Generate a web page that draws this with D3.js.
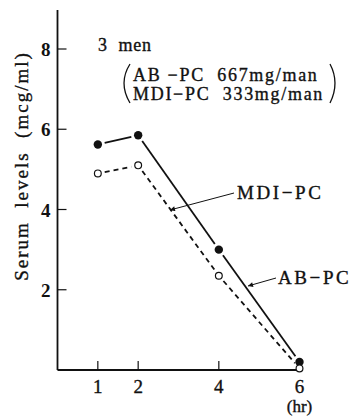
<!DOCTYPE html>
<html>
<head>
<meta charset="utf-8">
<script src="https://cdn.jsdelivr.net/npm/d3@7"></script>
<style>
  body { margin: 0; background: #fff; }
  svg text { font-family: "Liberation Serif", "DejaVu Serif", serif; fill: #111; white-space: pre;
             stroke: #111; stroke-width: 0.35px; }
</style>
</head>
<body>
<div id="chart"></div>
<script>
// data
const hours = [1, 2, 4, 6];
const abpc = [5.62, 5.85, 3.0, 0.2];     // filled circles, solid line
const mdipc = [4.9, 5.1, 2.35, 0.04];    // open circles, dashed line
const xTicks = [1, 2, 4, 6];
const yTicks = [2, 4, 6, 8];

const width = 357, height = 416;

const svg = d3.select("#chart").append("svg")
    .attr("width", width)
    .attr("height", height);

// scales
const x = d3.scaleLinear().domain([0, 6]).range([57.5, 299.5]);
const y = d3.scaleLinear().domain([0, 8]).range([370, 49]);

const ink = "#111";

// axes lines
svg.append("line")
    .attr("x1", x(0)).attr("x2", x(0))
    .attr("y1", 10).attr("y2", y(0))
    .attr("stroke", ink).attr("stroke-width", 1.8);

svg.append("line")
    .attr("x1", x(0)).attr("x2", x(6))
    .attr("y1", y(0)).attr("y2", y(0))
    .attr("stroke", ink).attr("stroke-width", 1.8);

// y ticks (inside) + labels
svg.selectAll(".ytick").data(yTicks).enter().append("line")
    .attr("x1", x(0)).attr("x2", x(0) + 9)
    .attr("y1", d => y(d)).attr("y2", d => y(d))
    .attr("stroke", ink).attr("stroke-width", 1.2);

svg.selectAll(".ylab").data(yTicks).enter().append("text")
    .attr("x", x(0) - 7).attr("y", d => y(d) + 7)
    .attr("text-anchor", "end")
    .style("font-size", "19px")
    .style("font-weight", "bold")
    .style("stroke-width", "0")
    .text(d => d);

// x ticks (inside) + labels
svg.selectAll(".xtick").data(xTicks).enter().append("line")
    .attr("x1", d => x(d)).attr("x2", d => x(d))
    .attr("y1", y(0)).attr("y2", y(0) - 9)
    .attr("stroke", ink).attr("stroke-width", 1.2);

svg.selectAll(".xlab").data(xTicks).enter().append("text")
    .attr("x", d => x(d)).attr("y", y(0) + 23)
    .attr("text-anchor", "middle")
    .style("font-size", "19px")
    .text(d => d);

svg.append("text")
    .attr("x", x(6)).attr("y", 412)
    .attr("text-anchor", "middle")
    .style("font-size", "17px")
    .text("(hr)");

// y axis title
svg.append("text")
    .attr("transform", `translate(28, 166) rotate(-90)`)
    .attr("text-anchor", "middle")
    .style("font-size", "19px")
    .style("letter-spacing", "2px")
    .text("Serum  levels  (mcg/ml)");

// segments between points, stopping short of the markers
function segments(vals, gap) {
    let segs = [];
    for (let i = 0; i < vals.length - 1; i++) {
        let x1 = x(hours[i]), y1 = y(vals[i]);
        let x2 = x(hours[i + 1]), y2 = y(vals[i + 1]);
        let len = Math.hypot(x2 - x1, y2 - y1);
        let ux = (x2 - x1) / len, uy = (y2 - y1) / len;
        segs.push({x1: x1 + ux * gap, y1: y1 + uy * gap, x2: x2 - ux * gap, y2: y2 - uy * gap});
    }
    return segs;
}

svg.selectAll(".abseg").data(segments(abpc, 7)).enter().append("line")
    .attr("x1", d => d.x1).attr("y1", d => d.y1)
    .attr("x2", d => d.x2).attr("y2", d => d.y2)
    .attr("stroke", ink).attr("stroke-width", 1.8);

svg.selectAll(".mdiseg").data(segments(mdipc, 7)).enter().append("line")
    .attr("x1", d => d.x1).attr("y1", d => d.y1)
    .attr("x2", d => d.x2).attr("y2", d => d.y2)
    .attr("stroke", ink).attr("stroke-width", 1.8)
    .attr("stroke-dasharray", "5,4");

// markers
svg.selectAll(".abpt").data(abpc).enter().append("circle")
    .attr("cx", (d, i) => x(hours[i])).attr("cy", d => y(d))
    .attr("r", 4.2).attr("fill", ink);

svg.selectAll(".mdipt").data(mdipc).enter().append("circle")
    .attr("cx", (d, i) => x(hours[i])).attr("cy", d => y(d))
    .attr("r", 3.4).attr("fill", "#fff")
    .attr("stroke", ink).attr("stroke-width", 1.2);

// header text
svg.append("text")
    .attr("x", 98).attr("y", 51)
    .style("font-size", "18px")
    .style("letter-spacing", "0.8px")
    .text("3  men");

svg.append("text")
    .attr("x", 133).attr("y", 81)
    .style("font-size", "18px")
    .style("letter-spacing", "1.7px")
    .text("AB \u2212PC  667mg/man");

svg.append("text")
    .attr("x", 133).attr("y", 100)
    .style("font-size", "18px")
    .style("letter-spacing", "1.7px")
    .text("MDI\u2212PC  333mg/man");

// large parentheses
svg.append("path")
    .attr("d", "M130,64 Q118,83 130,103")
    .attr("fill", "none").attr("stroke", ink).attr("stroke-width", 1.3);
svg.append("path")
    .attr("d", "M330,64 Q340,83 330,103")
    .attr("fill", "none").attr("stroke", ink).attr("stroke-width", 1.3);

// annotation labels with arrows
svg.append("defs").append("marker")
    .attr("id", "arr")
    .attr("viewBox", "0 0 10 10")
    .attr("refX", 10).attr("refY", 5)
    .attr("markerWidth", 7).attr("markerHeight", 5)
    .attr("orient", "auto")
    .append("path").attr("d", "M0,0 L10,5 L0,10 z").attr("fill", ink);

svg.append("text")
    .attr("x", 237).attr("y", 199)
    .style("font-size", "19px")
    .style("letter-spacing", "2.6px")
    .text("MDI\u2212PC");

svg.append("line")
    .attr("x1", 234).attr("y1", 193)
    .attr("x2", 170).attr("y2", 210)
    .attr("stroke", ink).attr("stroke-width", 1)
    .attr("marker-end", "url(#arr)");

svg.append("text")
    .attr("x", 278).attr("y", 284)
    .style("font-size", "19px")
    .style("letter-spacing", "2.6px")
    .text("AB\u2212PC");

svg.append("line")
    .attr("x1", 276).attr("y1", 278)
    .attr("x2", 248).attr("y2", 286)
    .attr("stroke", ink).attr("stroke-width", 1)
    .attr("marker-end", "url(#arr)");
</script>
</body>
</html>
